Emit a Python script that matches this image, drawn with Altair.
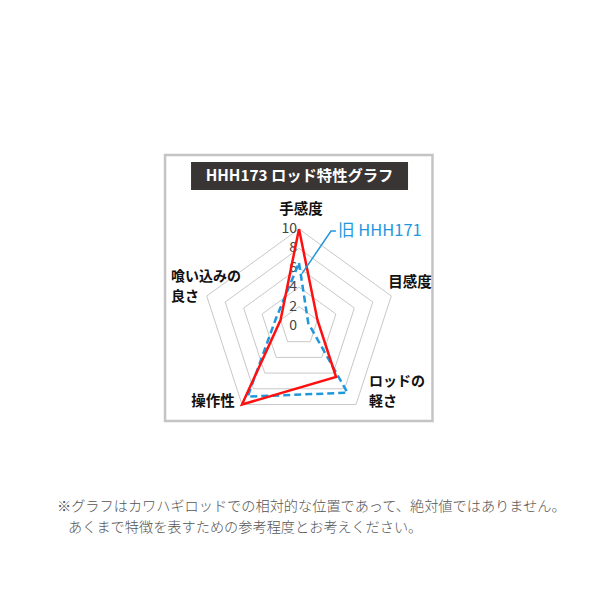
import math
import altair as alt
import pandas as pd

# ---- data ----
axes_labels = ["手感度", "目感度", "ロッドの軽さ", "操作性", "喰い込みの良さ"]
hhh173 = [10, 2, 6.5, 10, 2]        # red series
hhh171_old = [6.5, 1, 8.5, 9, 2.5]  # blue dashed series (旧 HHH171)
grid_levels = [2, 4, 6, 8, 10]
tick_labels = ["0", "2", "4", "6", "8", "10"]
title_text = "HHH173 ロッド特性グラフ"
legend_text = "旧 HHH171"
note_lines = [
    "※グラフはカワハギロッドでの相対的な位置であって、絶対値ではありません。",
    "あくまで特徴を表すための参考程度とお考えください。",
]

FONT = "Noto Sans CJK JP"
angles = [90, 18, -54, -126, 162]


def polar(v, a):
    r = math.radians(a)
    return v * math.cos(r), v * math.sin(r)


def series_df(vals, name):
    rows = []
    for i in range(6):
        k = i % 5
        x, y = polar(vals[k], angles[k])
        rows.append({"series": name, "axis": axes_labels[k], "ord": i, "x": x, "y": y})
    return pd.DataFrame(rows)


grid_rows = []
for lv in grid_levels:
    for i in range(6):
        k = i % 5
        x, y = polar(lv, angles[k])
        grid_rows.append({"level": lv, "ord": i, "x": x, "y": y})
grid_df = pd.DataFrame(grid_rows)

xs = alt.Scale(domain=[-30.0, 30.206], nice=False, zero=False)
ys = alt.Scale(domain=[-27.42, 32.78], nice=False, zero=False)
X = lambda f="x": alt.X(f"{f}:Q", scale=xs, axis=None)
Y = lambda f="y": alt.Y(f"{f}:Q", scale=ys, axis=None)

# frame box and title bar (layout units)
box = alt.Chart(pd.DataFrame([{"x": -13.81, "x2": 13.76, "y": 17.63, "y2": -9.79}])).mark_rect(
    fill="white", stroke="#c4c4c4", strokeWidth=2.5
).encode(x=X(), x2="x2:Q", y=Y(), y2="y2:Q")

bar = alt.Chart(pd.DataFrame([{"x": -11.13, "x2": 11.24, "y": 16.9, "y2": 14.02}])).mark_rect(
    fill="#3a3535"
).encode(x=X(), x2="x2:Q", y=Y(), y2="y2:Q")

title = alt.Chart(pd.DataFrame([{"x": 0.05, "y": 15.46, "t": title_text}])).mark_text(
    font=FONT, fontSize=15.3, fontWeight="bold", color="white", baseline="middle", align="center"
).encode(x=X(), y=Y(), text="t:N")

grid = alt.Chart(grid_df).mark_line(color="#c8c8c8", strokeWidth=1).encode(
    x=X(), y=Y(), detail="level:N", order="ord:Q"
)

tick_df = pd.DataFrame({"t": tick_labels, "y": [float(t) for t in tick_labels], "x": -0.21})
ticks = alt.Chart(tick_df).mark_text(
    font=FONT, fontSize=14, color="#444444", align="right", baseline="middle"
).encode(x=X(), y=Y(), text="t:N")

blue = alt.Chart(series_df(hhh171_old, "old")).mark_line(
    color="#1f97dc", strokeWidth=2.5, strokeDash=[7, 4]
).encode(x=X(), y=Y(), order="ord:Q")

red = alt.Chart(series_df(hhh173, "new")).mark_line(
    color="#ff1010", strokeWidth=2.5
).encode(x=X(), y=Y(), order="ord:Q")

# category labels
lab_rows = [
    {"t": "手感度", "x": 0.2, "y": 11.95, "a": "center"},
    {"t": "目感度", "x": 11.44, "y": 4.43, "a": "center"},
    {"t": "ロッドの", "x": 7.22, "y": -5.78, "a": "left"},
    {"t": "軽さ", "x": 7.22, "y": -7.8, "a": "left"},
    {"t": "操作性", "x": -8.87, "y": -7.84, "a": "center"},
    {"t": "喰い込みの", "x": -13.2, "y": 5.05, "a": "left"},
    {"t": "良さ", "x": -13.2, "y": 3.03, "a": "left"},
]
lab_df = pd.DataFrame(lab_rows)
labels_c = alt.Chart(lab_df[lab_df.a == "center"]).mark_text(
    font=FONT, fontSize=14.5, fontWeight="bold", color="#111111", align="center", baseline="middle"
).encode(x=X(), y=Y(), text="t:N")
labels_l = alt.Chart(lab_df[lab_df.a == "left"]).mark_text(
    font=FONT, fontSize=14, fontWeight="bold", color="#111111", align="left", baseline="middle"
).encode(x=X(), y=Y(), text="t:N")

# legend callout
legend = alt.Chart(pd.DataFrame([{"x": 4.02, "y": 9.79, "t": legend_text}])).mark_text(
    font=FONT, fontSize=16.5, color="#1f97dc", align="left", baseline="middle"
).encode(x=X(), y=Y(), text="t:N")
leader_df = pd.DataFrame([
    {"ord": 0, "x": 3.81, "y": 9.79},
    {"ord": 1, "x": 3.3, "y": 9.79},
    {"ord": 2, "x": 0.31, "y": 5.4},
])
leader = alt.Chart(leader_df).mark_line(color="#1f97dc", strokeWidth=1.5).encode(
    x=X(), y=Y(), order="ord:Q"
)

note_df = pd.DataFrame([
    {"t": note_lines[0], "x": -24.95, "y": -18.66},
    {"t": note_lines[1], "x": -23.81, "y": -20.82},
])
note = alt.Chart(note_df).mark_text(
    font=FONT, fontSize=14.2, color="#555555", align="left", baseline="middle", fontWeight=300
).encode(x=X(), y=Y(), text="t:N")

chart = alt.layer(
    box, bar, title, grid, ticks, blue, red, labels_c, labels_l, legend, leader, note
).properties(
    width=584, height=584, padding=0, autosize=alt.AutoSizeParams(type="none")
).configure_view(stroke=None)

chart.save("out.html", embed_options={"renderer": "svg", "actions": False})
